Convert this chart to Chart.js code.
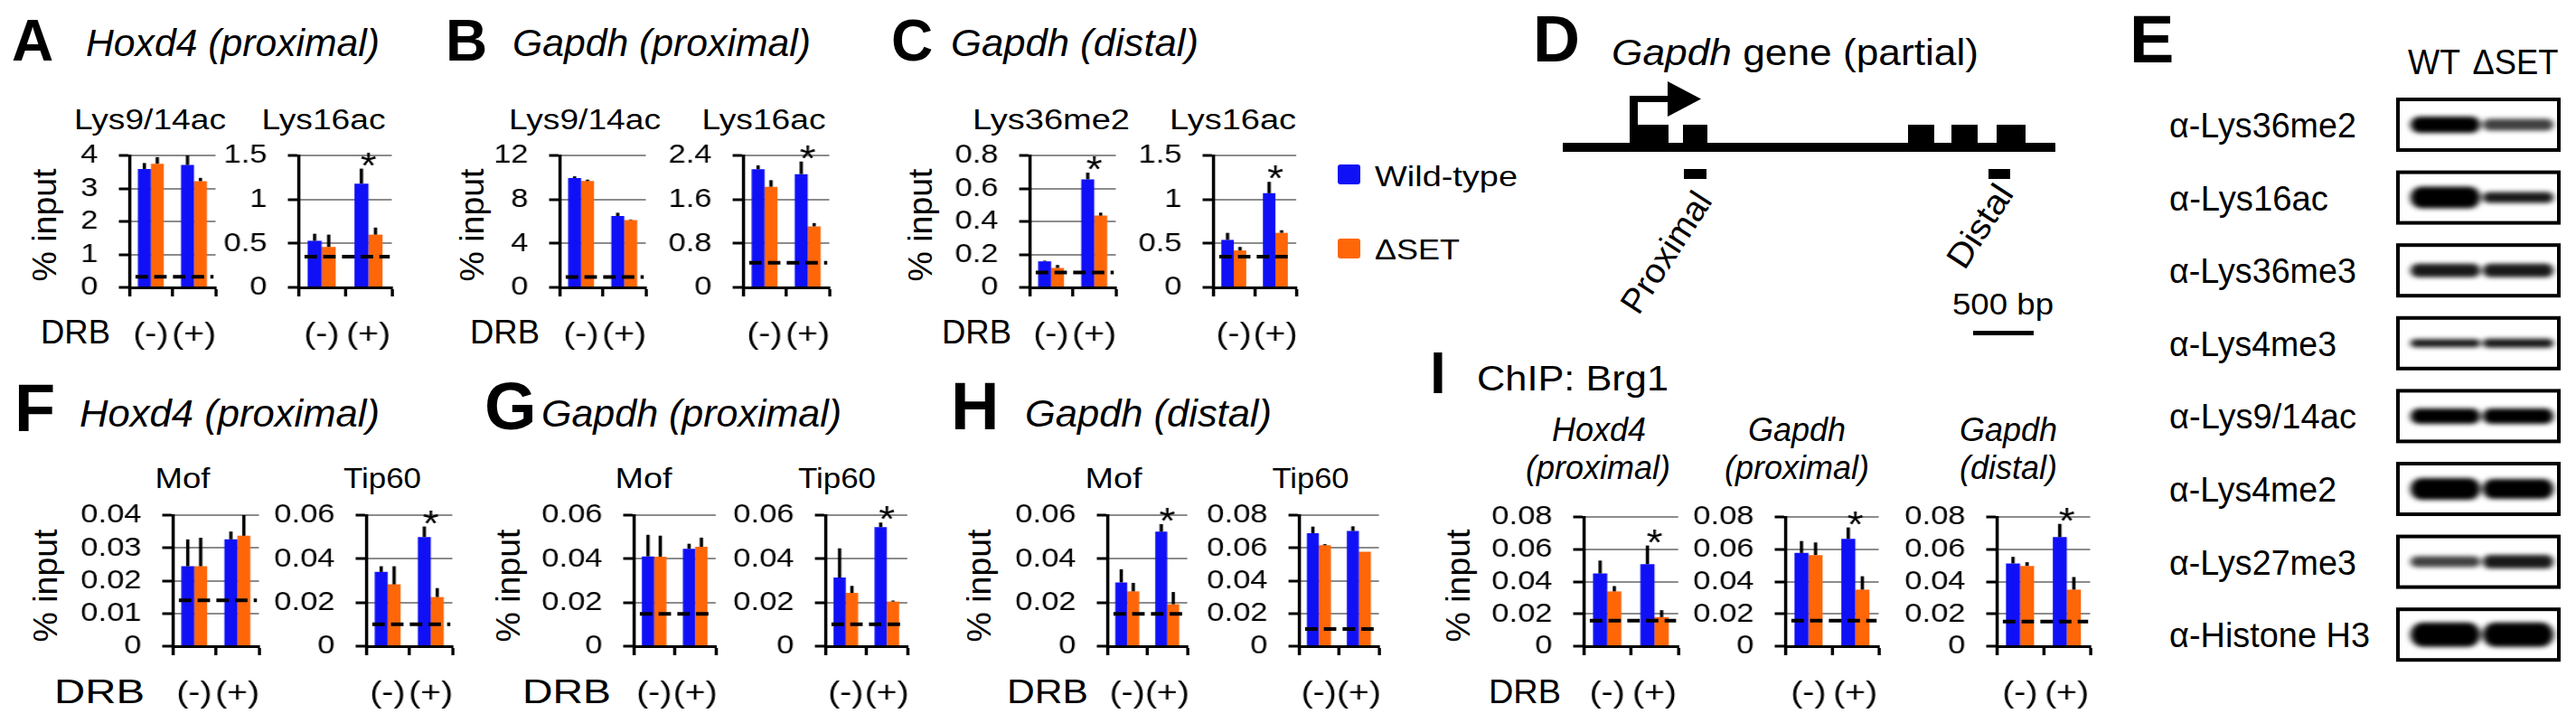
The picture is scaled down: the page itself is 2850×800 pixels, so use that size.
<!DOCTYPE html>
<html>
<head>
<meta charset="utf-8">
<title>ChIP: histone marks, Mof, Tip60 and Brg1</title>
<script src="https://cdn.jsdelivr.net/npm/chart.js@4.4.1/dist/chart.umd.min.js"></script>
<style>
  html, body { margin: 0; padding: 0; background: #fff; }
  #fig { position: relative; width: 2850px; height: 800px; overflow: hidden; }
  #art { position: absolute; left: 0; top: 0; }
  .plot { position: absolute; transform-origin: 0 0; }
  .plot canvas { display: block; }
</style>
</head>
<body>
<div id="fig">
<svg id="art" width="2850" height="800" viewBox="0 0 2850 800" font-family="'Liberation Sans', Arial, sans-serif" fill="#000">
  <defs>
    <filter id="smear" x="-30%" y="-150%" width="160%" height="400%"><feGaussianBlur stdDeviation="3.5 2.8"/></filter>
  </defs>

  <!-- panel letters -->
  <g font-weight="bold">
    <text x="13" y="67" font-size="64">A</text>
    <text x="493" y="67" font-size="64">B</text>
    <text x="986" y="67" font-size="64">C</text>
    <text x="1696" y="68" font-size="72">D</text>
    <text x="2356" y="69" font-size="74">E</text>
    <text x="16" y="477" font-size="74">F</text>
    <text x="536" y="475" font-size="74">G</text>
    <text x="1052" y="475" font-size="74">H</text>
    <text x="1582" y="435" font-size="64">I</text>
  </g>

  <!-- panel subtitles -->
  <g font-style="italic" font-size="42">
    <text x="95" y="62" textLength="325" lengthAdjust="spacingAndGlyphs">Hoxd4 (proximal)</text>
    <text x="567" y="62" textLength="330" lengthAdjust="spacingAndGlyphs">Gapdh (proximal)</text>
    <text x="1052" y="62" textLength="274" lengthAdjust="spacingAndGlyphs">Gapdh (distal)</text>
    <text x="88" y="472" textLength="332" lengthAdjust="spacingAndGlyphs">Hoxd4 (proximal)</text>
    <text x="599" y="472" textLength="332" lengthAdjust="spacingAndGlyphs">Gapdh (proximal)</text>
    <text x="1134" y="472" textLength="273" lengthAdjust="spacingAndGlyphs">Gapdh (distal)</text>
  </g>
  <text x="1634" y="432" font-size="38" textLength="212" lengthAdjust="spacingAndGlyphs">ChIP: Brg1</text>

  <!-- chart titles -->
  <g font-size="31" text-anchor="middle">
    <text x="166" y="143" textLength="168" lengthAdjust="spacingAndGlyphs">Lys9/14ac</text>
    <text x="358" y="143" textLength="137" lengthAdjust="spacingAndGlyphs">Lys16ac</text>
    <text x="647" y="143" textLength="168" lengthAdjust="spacingAndGlyphs">Lys9/14ac</text>
    <text x="845" y="143" textLength="137" lengthAdjust="spacingAndGlyphs">Lys16ac</text>
    <text x="1163" y="143" textLength="174" lengthAdjust="spacingAndGlyphs">Lys36me2</text>
    <text x="1364" y="143" textLength="140" lengthAdjust="spacingAndGlyphs">Lys16ac</text>
    <text x="202" y="540" textLength="61" lengthAdjust="spacingAndGlyphs">Mof</text>
    <text x="423" y="540" textLength="86" lengthAdjust="spacingAndGlyphs">Tip60</text>
    <text x="712" y="540" textLength="63" lengthAdjust="spacingAndGlyphs">Mof</text>
    <text x="926" y="540" textLength="86" lengthAdjust="spacingAndGlyphs">Tip60</text>
    <text x="1232" y="540" textLength="63" lengthAdjust="spacingAndGlyphs">Mof</text>
    <text x="1450" y="540" textLength="85" lengthAdjust="spacingAndGlyphs">Tip60</text>
  </g>
  <g font-size="36" font-style="italic" text-anchor="middle">
    <text x="1769" y="488">Hoxd4</text>
    <text x="1768" y="530">(proximal)</text>
    <text x="1988" y="488">Gapdh</text>
    <text x="1988" y="530">(proximal)</text>
    <text x="2222" y="488">Gapdh</text>
    <text x="2222" y="530">(distal)</text>
  </g>

  <!-- y axis titles -->
  <g font-size="36" text-anchor="middle">
    <text transform="translate(49 249) rotate(-90)" dy="0.35em" textLength="125" lengthAdjust="spacingAndGlyphs">% input</text>
    <text transform="translate(522 249) rotate(-90)" dy="0.35em" textLength="125" lengthAdjust="spacingAndGlyphs">% input</text>
    <text transform="translate(1018 249) rotate(-90)" dy="0.35em" textLength="125" lengthAdjust="spacingAndGlyphs">% input</text>
    <text transform="translate(50 648) rotate(-90)" dy="0.35em" textLength="125" lengthAdjust="spacingAndGlyphs">% input</text>
    <text transform="translate(562 648) rotate(-90)" dy="0.35em" textLength="125" lengthAdjust="spacingAndGlyphs">% input</text>
    <text transform="translate(1083 648) rotate(-90)" dy="0.35em" textLength="125" lengthAdjust="spacingAndGlyphs">% input</text>
    <text transform="translate(1613 648) rotate(-90)" dy="0.35em" textLength="125" lengthAdjust="spacingAndGlyphs">% input</text>
  </g>

  <!-- DRB row labels -->
  <g font-size="36">
    <text x="45" y="380" textLength="77" lengthAdjust="spacingAndGlyphs">DRB</text>
    <text x="520" y="380" textLength="77" lengthAdjust="spacingAndGlyphs">DRB</text>
    <text x="1042" y="380" textLength="77" lengthAdjust="spacingAndGlyphs">DRB</text>
    <text x="60" y="778" textLength="100" lengthAdjust="spacingAndGlyphs">DRB</text>
    <text x="578" y="778" textLength="98" lengthAdjust="spacingAndGlyphs">DRB</text>
    <text x="1114" y="778" textLength="90" lengthAdjust="spacingAndGlyphs">DRB</text>
    <text x="1647" y="778" textLength="80" lengthAdjust="spacingAndGlyphs">DRB</text>
  </g>

  <!-- D: Gapdh gene map -->
  <text x="1783" y="72" font-size="41" textLength="406" lengthAdjust="spacingAndGlyphs"><tspan font-style="italic">Gapdh</tspan> gene (partial)</text>
  <g>
    <rect x="1729" y="158" width="545" height="10"/>
    <rect x="1803" y="138" width="43" height="26"/>
    <rect x="1862" y="138" width="27" height="26"/>
    <rect x="2111" y="138" width="29" height="26"/>
    <rect x="2159" y="138" width="29" height="26"/>
    <rect x="2209" y="138" width="32" height="26"/>
    <rect x="1803" y="106" width="9" height="34"/>
    <rect x="1803" y="106" width="44" height="7"/>
    <polygon points="1845,90 1882,109.5 1845,129"/>
    <rect x="1863" y="187" width="25" height="11"/>
    <rect x="2200" y="187" width="24" height="11"/>
    <rect x="2183" y="366" width="67" height="5"/>
  </g>
  <text transform="translate(1843 279) rotate(-57)" text-anchor="middle" dy="0.35em" font-size="38" textLength="152" lengthAdjust="spacingAndGlyphs">Proximal</text>
  <text transform="translate(2190 250) rotate(-57)" text-anchor="middle" dy="0.35em" font-size="38" textLength="102" lengthAdjust="spacingAndGlyphs">Distal</text>
  <text x="2160" y="348" font-size="33" textLength="112" lengthAdjust="spacingAndGlyphs">500 bp</text>

  <g id="legend"></g>
  <g id="blot"></g>
</svg>
</div>

<script>
// ---- data ----
const drb = ['(-)', '(+)'];
const series = ['Wild-type', '\u0394SET'];

// A  Hoxd4 (proximal)
const aK914Wt = [3.59, 3.71], aK914WtErr = [0.18, 0.29];
const aK914Set = [3.75, 3.22], aK914SetErr = [0.20, 0.10];
const aK914Input = 0.32, aK914Ticks = [0, 1, 2, 3, 4], aK914Star = [false, false];
const aK16Wt = [0.53, 1.18], aK16WtErr = [0.08, 0.17];
const aK16Set = [0.46, 0.60], aK16SetErr = [0.14, 0.08];
const aK16Input = 0.35, aK16Ticks = [0, 0.5, 1, 1.5], aK16Star = [false, true];

// B  Gapdh (proximal)
const bK914Wt = [9.95, 6.49], bK914WtErr = [0.15, 0.30];
const bK914Set = [9.67, 6.13], bK914SetErr = [0.13, 0.05];
const bK914Input = 0.95, bK914Ticks = [0, 4, 8, 12], bK914Star = [false, false];
const bK16Wt = [2.15, 2.06], bK16WtErr = [0.07, 0.23];
const bK16Set = [1.83, 1.11], bK16SetErr = [0.12, 0.06];
const bK16Input = 0.45, bK16Ticks = [0, 0.8, 1.6, 2.4], bK16Star = [false, true];

// C  Gapdh (distal)
const cK36Wt = [0.158, 0.655], cK36WtErr = [0.004, 0.041];
const cK36Set = [0.118, 0.435], cK36SetErr = [0.018, 0.018];
const cK36Input = 0.09, cK36Ticks = [0, 0.2, 0.4, 0.6, 0.8], cK36Star = [false, true];
const cK16Wt = [0.54, 1.07], cK16WtErr = [0.08, 0.13];
const cK16Set = [0.42, 0.62], cK16SetErr = [0.04, 0.03];
const cK16Input = 0.35, cK16Ticks = [0, 0.5, 1, 1.5], cK16Star = [false, true];

// F  Hoxd4 (proximal)
const fMofWt = [0.0244, 0.0326], fMofWtErr = [0.0082, 0.0024];
const fMofSet = [0.0244, 0.0337], fMofSetErr = [0.0087, 0.0063];
const fMofInput = 0.014, fMofTicks = [0, 0.01, 0.02, 0.03, 0.04], fMofStar = [false, false];
const fTipWt = [0.034, 0.050], fTipWtErr = [0.0026, 0.0048];
const fTipSet = [0.0283, 0.0225], fTipSetErr = [0.0083, 0.0041];
const fTipInput = 0.010, fTipTicks = [0, 0.02, 0.04, 0.06], fTipStar = [false, true];

// G  Gapdh (proximal)
const gMofWt = [0.0411, 0.0446], gMofWtErr = [0.0099, 0.0023];
const gMofSet = [0.0410, 0.0455], gMofSetErr = [0.0096, 0.0042];
const gMofInput = 0.0148, gMofTicks = [0, 0.02, 0.04, 0.06], gMofStar = [false, false];
const gTipWt = [0.0314, 0.0545], gTipWtErr = [0.0134, 0.0021];
const gTipSet = [0.0244, 0.0204], gTipSetErr = [0.0032, 0.0005];
const gTipInput = 0.010, gTipTicks = [0, 0.02, 0.04, 0.06], gTipStar = [false, true];

// H  Gapdh (distal)
const hMofWt = [0.0292, 0.0524], hMofWtErr = [0.0060, 0.0035];
const hMofSet = [0.0251, 0.0192], hMofSetErr = [0.0039, 0.0056];
const hMofInput = 0.0148, hMofTicks = [0, 0.02, 0.04, 0.06], hMofStar = [false, true];
const hTipWt = [0.0690, 0.0703], hTipWtErr = [0.0040, 0.0029];
const hTipSet = [0.0616, 0.0576], hTipSetErr = [0.0007, 0];
const hTipInput = 0.0105, hTipTicks = [0, 0.02, 0.04, 0.06, 0.08], hTipStar = [false, false];

// I  ChIP: Brg1
const iHoxWt = [0.0450, 0.0508], iHoxWtErr = [0.0080, 0.0115];
const iHoxSet = [0.0339, 0.0180], iHoxSetErr = [0.0033, 0.0043];
const iHoxInput = 0.0158, iHoxTicks = [0, 0.02, 0.04, 0.06, 0.08], iHoxStar = [false, true];
const iGpWt = [0.0577, 0.0664], iGpWtErr = [0.0074, 0.0071];
const iGpSet = [0.0564, 0.0350], iGpSetErr = [0.0078, 0.0083];
const iGpInput = 0.0158, iGpTicks = [0, 0.02, 0.04, 0.06, 0.08], iGpStar = [false, true];
const iGdWt = [0.0512, 0.0675], iGdWtErr = [0.0041, 0.0082];
const iGdSet = [0.0497, 0.0350], iGdSetErr = [0.0023, 0.0078];
const iGdInput = 0.0153, iGdTicks = [0, 0.02, 0.04, 0.06, 0.08], iGdStar = [false, true];

// E  western blot
const blotMarks = ['\u03b1-Lys36me2', '\u03b1-Lys16ac', '\u03b1-Lys36me3', '\u03b1-Lys4me3',
                   '\u03b1-Lys9/14ac', '\u03b1-Lys4me2', '\u03b1-Lys27me3', '\u03b1-Histone H3'];
const blotLanes = ['WT', '\u0394SET'];
const wtBand = [1, 1, 0.9, 0.9, 1, 1, 0.75, 1];
const setBand = [0.75, 0.9, 0.9, 0.9, 1, 1, 0.9, 1];
const wtBandH = [18, 24, 15, 9, 17, 24, 12, 27];
const setBandH = [13, 12, 15, 10, 17, 22, 15, 27];

// ---- layout (page pixels) ----
const FONT = '"Liberation Sans", Arial, sans-serif';
const BLUE = '#1010f6', ORANGE = '#ff6608', GRID = '#8c8c8c';
const S = 1.15;          // horizontal stretch of the chart images
const AXW = 100, PT = 40, PR = 8, XH = 24, PB = 52;

// plot area [left, right, top, bottom]
const plotBoxes = {
  a1: [143, 238, 172, 318], a2: [330, 434, 172, 318],
  b1: [619, 715, 172, 318], b2: [822, 917, 172, 318],
  c1: [1139, 1234, 172, 318], c2: [1342, 1434, 172, 318],
  f1: [191, 286, 570, 715], f2: [405, 500, 570, 715],
  g1: [701, 792, 570, 715], g2: [913, 1004, 570, 715],
  h1: [1225, 1314, 570, 715], h2: [1437, 1526, 570, 715],
  i1: [1752, 1857, 572, 715], i2: [1975, 2078, 572, 715], i3: [2209, 2312, 572, 715]
};

const charts = [
  ['a1', aK914Wt, aK914WtErr, aK914Set, aK914SetErr, aK914Input, aK914Ticks, aK914Star],
  ['a2', aK16Wt, aK16WtErr, aK16Set, aK16SetErr, aK16Input, aK16Ticks, aK16Star],
  ['b1', bK914Wt, bK914WtErr, bK914Set, bK914SetErr, bK914Input, bK914Ticks, bK914Star],
  ['b2', bK16Wt, bK16WtErr, bK16Set, bK16SetErr, bK16Input, bK16Ticks, bK16Star],
  ['c1', cK36Wt, cK36WtErr, cK36Set, cK36SetErr, cK36Input, cK36Ticks, cK36Star],
  ['c2', cK16Wt, cK16WtErr, cK16Set, cK16SetErr, cK16Input, cK16Ticks, cK16Star],
  ['f1', fMofWt, fMofWtErr, fMofSet, fMofSetErr, fMofInput, fMofTicks, fMofStar],
  ['f2', fTipWt, fTipWtErr, fTipSet, fTipSetErr, fTipInput, fTipTicks, fTipStar],
  ['g1', gMofWt, gMofWtErr, gMofSet, gMofSetErr, gMofInput, gMofTicks, gMofStar],
  ['g2', gTipWt, gTipWtErr, gTipSet, gTipSetErr, gTipInput, gTipTicks, gTipStar],
  ['h1', hMofWt, hMofWtErr, hMofSet, hMofSetErr, hMofInput, hMofTicks, hMofStar],
  ['h2', hTipWt, hTipWtErr, hTipSet, hTipSetErr, hTipInput, hTipTicks, hTipStar],
  ['i1', iHoxWt, iHoxWtErr, iHoxSet, iHoxSetErr, iHoxInput, iHoxTicks, iHoxStar],
  ['i2', iGpWt, iGpWtErr, iGpSet, iGpSetErr, iGpInput, iGpTicks, iGpStar],
  ['i3', iGdWt, iGdWtErr, iGdSet, iGdSetErr, iGdInput, iGdTicks, iGdStar]
];

// error bars, dashed input level, asterisks and DRB category labels
const extras = {
  id: 'extras',
  afterDatasetsDraw(chart, args, opts) {
    const { ctx, chartArea: area, scales: { x, y } } = chart;
    ctx.save();
    ctx.strokeStyle = '#000';
    ctx.lineWidth = 3.2;
    opts.errs.forEach((errs, i) => {
      const vals = chart.data.datasets[i].data;
      chart.getDatasetMeta(i).data.forEach((bar, j) => {
        if (!errs[j]) return;
        ctx.beginPath();
        ctx.moveTo(bar.x, bar.y);
        ctx.lineTo(bar.x, y.getPixelForValue(vals[j] + errs[j]));
        ctx.stroke();
      });
    });

    const yi = y.getPixelForValue(opts.input);
    ctx.lineWidth = 4;
    ctx.setLineDash([12, 6]);
    ctx.beginPath();
    ctx.moveTo(area.left + 6, yi);
    ctx.lineTo(area.right - 2, yi);
    ctx.stroke();
    ctx.setLineDash([]);

    ctx.fillStyle = '#000';
    ctx.textAlign = 'center';
    ctx.textBaseline = 'alphabetic';
    ctx.font = '40px ' + FONT;
    opts.star.forEach((on, j) => {
      if (!on) return;
      const top = Math.max(...chart.data.datasets.map((d, i) => d.data[j] + opts.errs[i][j]));
      ctx.fillText('*', x.getPixelForValue(j), y.getPixelForValue(top) + 10);
    });

    ctx.font = '34px ' + FONT;
    chart.data.labels.forEach((lab, j) => ctx.fillText(lab, x.getPixelForValue(j), area.bottom + 62));
    ctx.restore();
  }
};

const fig = document.getElementById('fig');

function makeChart([key, wt, wtErr, set, setErr, input, ticks, star]) {
  const [L, R, T, B] = plotBoxes[key];
  const w = Math.round(AXW + (R - L) / S + PR);
  const h = PT + (B - T) + XH + PB;
  const wrap = document.createElement('div');
  wrap.className = 'plot';
  wrap.style.left = (L - S * AXW) + 'px';
  wrap.style.top = (T - PT) + 'px';
  wrap.style.transform = 'scaleX(' + S + ')';
  const cv = document.createElement('canvas');
  cv.width = w; cv.height = h;
  cv.style.width = w + 'px'; cv.style.height = h + 'px';
  wrap.appendChild(cv);
  fig.appendChild(wrap);

  new Chart(cv, {
    type: 'bar',
    data: {
      labels: drb,
      datasets: [
        { label: series[0], data: wt, backgroundColor: BLUE, categoryPercentage: 0.6, barPercentage: 1 },
        { label: series[1], data: set, backgroundColor: ORANGE, categoryPercentage: 0.6, barPercentage: 1 }
      ]
    },
    options: {
      responsive: false,
      animation: false,
      devicePixelRatio: 1,
      layout: { padding: { top: PT, right: PR, bottom: PB, left: 0 } },
      plugins: {
        legend: { display: false },
        tooltip: { enabled: false },
        extras: { errs: [wtErr, setErr], input: input, star: star }
      },
      scales: {
        x: {
          grid: { drawOnChartArea: false, drawTicks: true, tickLength: 10, tickWidth: 3, tickColor: '#000', offset: true },
          border: { color: '#000', width: 3, z: 1 },
          ticks: { display: false },
          afterFit: s => { s.height = XH; }
        },
        y: {
          min: 0,
          max: ticks[ticks.length - 1],
          grid: { color: GRID, lineWidth: 2, tickLength: 10, tickWidth: 3, tickColor: '#000' },
          border: { color: '#000', width: 3, z: 1 },
          ticks: {
            color: '#000', font: { family: FONT, size: 30 }, padding: 20, autoSkip: false,
            callback: v => String(+v.toFixed(4))
          },
          afterBuildTicks: s => { s.ticks = ticks.map(v => ({ value: v })); },
          afterFit: s => { s.width = AXW; }
        }
      }
    },
    plugins: [extras]
  });
}

charts.forEach(makeChart);

// legend and blot drawn into the svg
const NS = 'http://www.w3.org/2000/svg';
function el(parent, tag, attrs, text) {
  const n = document.createElementNS(NS, tag);
  for (const k in attrs) n.setAttribute(k, attrs[k]);
  if (text !== undefined) n.textContent = text;
  parent.appendChild(n);
  return n;
}

const legend = document.getElementById('legend');
[[BLUE, 182, 206, 158], [ORANGE, 264, 287, 94]].forEach(([col, ry, ty, len], i) => {
  el(legend, 'rect', { x: 1480, y: ry, width: 25, height: 22, rx: 3, fill: col });
  el(legend, 'text', { x: 1521, y: ty, 'font-size': 32, textLength: len, lengthAdjust: 'spacingAndGlyphs' }, series[i]);
});

const blot = document.getElementById('blot');
const markLen = [207, 176, 207, 185, 207, 185, 207, 222];
el(blot, 'text', { x: 2693, y: 82, 'font-size': 38, 'text-anchor': 'middle', textLength: 58, lengthAdjust: 'spacingAndGlyphs' }, blotLanes[0]);
el(blot, 'text', { x: 2783, y: 82, 'font-size': 38, 'text-anchor': 'middle', textLength: 95, lengthAdjust: 'spacingAndGlyphs' }, blotLanes[1]);
blotMarks.forEach((mark, i) => {
  const top = 110 + i * 80.6, mid = top + 28;
  el(blot, 'text', { x: 2400, y: mid + 14, 'font-size': 38, textLength: markLen[i], lengthAdjust: 'spacingAndGlyphs' }, mark);
  const bands = el(blot, 'g', { filter: 'url(#smear)' });
  el(bands, 'rect', { x: 2667, y: mid - wtBandH[i] / 2, width: 77, height: wtBandH[i], rx: wtBandH[i] / 2, 'fill-opacity': wtBand[i] });
  el(bands, 'rect', { x: 2747, y: mid - setBandH[i] / 2, width: 78, height: setBandH[i], rx: setBandH[i] / 2, 'fill-opacity': setBand[i] });
  el(blot, 'rect', { x: 2653, y: top, width: 178, height: 56, fill: 'none', stroke: '#000', 'stroke-width': 4 });
});
</script>
</body>
</html>
